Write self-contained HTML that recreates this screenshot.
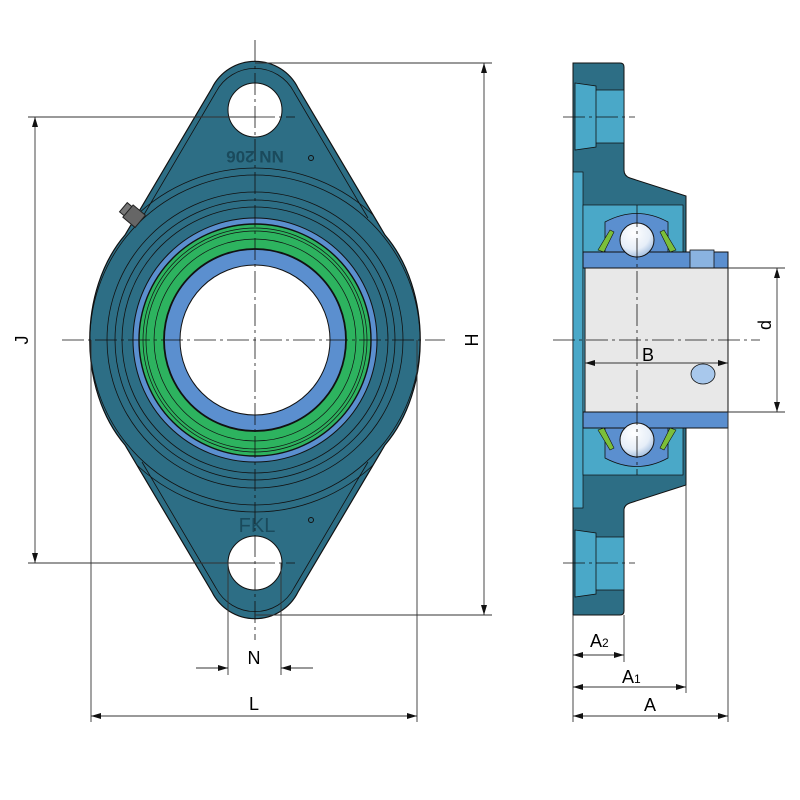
<!DOCTYPE html>
<html><head><meta charset="utf-8"><style>body{margin:0;background:#fff}svg{display:block}text{font-family:"Liberation Sans",sans-serif}</style></head><body>
<svg width="800" height="800" viewBox="0 0 800 800" xmlns="http://www.w3.org/2000/svg">
<defs>
<marker id="a" viewBox="0 0 10 6" refX="10" refY="3" markerWidth="10" markerHeight="6" orient="auto-start-reverse" markerUnits="userSpaceOnUse"><path d="M0,0L10,3L0,6z" fill="#111"/></marker>
<radialGradient id="ball" cx="0.4" cy="0.3" r="0.8"><stop offset="0" stop-color="#fff"/><stop offset="0.6" stop-color="#e6eef8"/><stop offset="1" stop-color="#8fb0d8"/></radialGradient>
<clipPath id="hc"><path d="M212,88 A48,48 0 0 1 298,88 L385,235 C432,290 432,390 385,445 L298,592 A48,48 0 0 1 212,592 L125,445 C78,390 78,290 125,235 Z"/></clipPath>
</defs>
<path d="M212,88 A48,48 0 0 1 298,88 L385,235 C432,290 432,390 385,445 L298,592 A48,48 0 0 1 212,592 L125,445 C78,390 78,290 125,235 Z" fill="#2d6e85" stroke="#111" stroke-width="1.2"/>
<path d="M216,92 A44,44 0 0 1 294,92 L368,218 M216,588 A44,44 0 0 0 294,588 L368,462 M142,218 L216,92 M142,462 L216,588" fill="none" stroke="#111" stroke-width="0.8"/>
<g fill="none" stroke="#111" stroke-width="0.8" clip-path="url(#hc)">
<circle cx="255" cy="340" r="172"/><circle cx="255" cy="340" r="165"/><circle cx="255" cy="340" r="148"/><circle cx="255" cy="340" r="140"/><circle cx="255" cy="340" r="133"/>
</g>
<circle cx="255" cy="340" r="122" fill="#5b8fcf" stroke="#111" stroke-width="1"/>
<circle cx="255" cy="340" r="116" fill="#2db35f" stroke="#111" stroke-width="1.4"/>
<g fill="none" stroke="#111" stroke-width="0.7"><circle cx="255" cy="340" r="112"/><circle cx="255" cy="340" r="109"/><circle cx="255" cy="340" r="101"/></g>
<circle cx="255" cy="340" r="91" fill="#5b8fcf" stroke="#111" stroke-width="1.8"/>
<circle cx="255" cy="340" r="75" fill="#fff" stroke="#111" stroke-width="1"/>
<circle cx="255" cy="110" r="27" fill="#fff" stroke="#111"/>
<circle cx="255" cy="563" r="27" fill="#fff" stroke="#111"/>
<circle cx="311" cy="158" r="2.5" fill="none" stroke="#111"/><circle cx="311" cy="520" r="2.5" fill="none" stroke="#111"/>
<text x="255" y="163" font-size="17" font-weight="bold" fill="#1a4a5c" text-anchor="middle" transform="rotate(180 255 157)">NN 206</text>
<text x="257" y="532" font-size="20" fill="#1a4a5c" text-anchor="middle" font-family="Liberation Serif">FKL</text>
<g transform="rotate(40 130 218)"><rect x="118" y="208" width="16" height="12" fill="#777" stroke="#222"/><rect x="124" y="206" width="16" height="16" fill="#666" stroke="#222"/></g>
<g stroke="#111" stroke-width="0.8" stroke-dasharray="22,4,3,4" fill="none">
<line x1="255" y1="40" x2="255" y2="640"/><line x1="62" y1="340" x2="445" y2="340"/>
<line x1="220" y1="117" x2="295" y2="117"/><line x1="220" y1="563" x2="295" y2="563"/>
</g>
<g stroke="#333" stroke-width="0.9" fill="none">
<line x1="28" y1="117" x2="255" y2="117"/><line x1="28" y1="563" x2="255" y2="563"/>
<line x1="35" y1="117" x2="35" y2="563" marker-start="url(#a)" marker-end="url(#a)"/>
<line x1="255" y1="63" x2="492" y2="63"/><line x1="255" y1="615" x2="492" y2="615"/>
<line x1="484" y1="63" x2="484" y2="615" marker-start="url(#a)" marker-end="url(#a)"/>
<line x1="91" y1="340" x2="91" y2="722"/><line x1="417" y1="340" x2="417" y2="722"/>
<line x1="91" y1="716" x2="417" y2="716" marker-start="url(#a)" marker-end="url(#a)"/>
<line x1="228" y1="563" x2="228" y2="675"/><line x1="281" y1="563" x2="281" y2="675"/>
<line x1="196" y1="668" x2="228" y2="668" marker-end="url(#a)"/><line x1="313" y1="668" x2="281" y2="668" marker-end="url(#a)"/>
</g>
<text x="22" y="340" font-size="18" text-anchor="middle" transform="rotate(-90 22 340)" dy="6">J</text>
<text x="472" y="340" font-size="18" text-anchor="middle" transform="rotate(-90 472 340)" dy="6">H</text>
<text x="254" y="710" font-size="18" text-anchor="middle">L</text>
<text x="254" y="664" font-size="18" text-anchor="middle">N</text>
<path d="M573,63 L620,63 Q624,63 624,67 L624,170 Q624,176 630,178 L686,196 L686,485 L630,503 Q624,505 624,510 L624,611 Q624,615 620,615 L573,615 Z" fill="#2d6e85" stroke="#111"/>
<path d="M575,83 L596,86 L596,147 L575,150 Z M596,90 L624,90 L624,143 L596,143 Z M575,530 L596,533 L596,594 L575,597 Z M596,537 L624,537 L624,590 L596,590 Z" fill="#4aa8c8" stroke="#111" stroke-width="0.8"/>
<rect x="573" y="172" width="10" height="336" fill="#4aa8c8" stroke="#111" stroke-width="0.7"/>
<rect x="583" y="205" width="100" height="270" fill="#4aa8c8" stroke="#111" stroke-width="0.7"/>
<path d="M605,222 Q637,205 668,222 L668,252 L605,252 Z M605,458 Q637,475 668,458 L668,428 L605,428 Z" fill="#5b8fcf" stroke="#111" stroke-width="0.8"/>
<path d="M598,250 L610,230 L614,232 L604,252 Z M676,250 L664,230 L660,232 L670,252 Z M598,430 L610,450 L614,448 L604,428 Z M676,430 L664,450 L660,448 L670,428 Z" fill="#7bbf3a" stroke="#111" stroke-width="0.6"/>
<rect x="583" y="252" width="145" height="16" fill="#5b8fcf" stroke="#111"/>
<rect x="583" y="412" width="145" height="16" fill="#5b8fcf" stroke="#111"/>
<rect x="690" y="250" width="24" height="18" fill="#8ab3e0" stroke="#111" stroke-width="0.8"/>
<rect x="585" y="268" width="143" height="144" fill="#e8e8e8" stroke="#111"/>
<circle cx="637" cy="240" r="17" fill="url(#ball)" stroke="#111"/>
<circle cx="637" cy="440" r="17" fill="url(#ball)" stroke="#111"/>
<ellipse cx="703" cy="374" rx="12" ry="10" fill="#a8c8ec" stroke="#111" stroke-width="0.8"/>
<g stroke="#111" stroke-width="0.8" stroke-dasharray="22,4,3,4" fill="none">
<line x1="553" y1="340" x2="760" y2="340"/><line x1="637" y1="205" x2="637" y2="475"/>
<line x1="563" y1="117" x2="635" y2="117"/><line x1="563" y1="563" x2="635" y2="563"/>
</g>
<g stroke="#333" stroke-width="0.9" fill="none">
<line x1="585" y1="363" x2="728" y2="363" marker-start="url(#a)" marker-end="url(#a)"/>
<line x1="728" y1="268" x2="785" y2="268"/><line x1="728" y1="412" x2="785" y2="412"/>
<line x1="777" y1="268" x2="777" y2="412" marker-start="url(#a)" marker-end="url(#a)"/>
<line x1="573" y1="615" x2="573" y2="722"/><line x1="624" y1="615" x2="624" y2="662"/>
<line x1="686" y1="485" x2="686" y2="693"/><line x1="728" y1="412" x2="728" y2="722"/>
<line x1="573" y1="655" x2="624" y2="655" marker-start="url(#a)" marker-end="url(#a)"/>
<line x1="573" y1="687" x2="686" y2="687" marker-start="url(#a)" marker-end="url(#a)"/>
<line x1="573" y1="716" x2="728" y2="716" marker-start="url(#a)" marker-end="url(#a)"/>
</g>
<text x="648" y="361" font-size="18" text-anchor="middle">B</text>
<text x="765" y="325" font-size="18" text-anchor="middle" transform="rotate(-90 765 325)" dy="6">d</text>
<text x="590" y="647" font-size="18">A<tspan font-size="12">2</tspan></text>
<text x="622" y="683" font-size="18">A<tspan font-size="12">1</tspan></text>
<text x="650" y="711" font-size="18" text-anchor="middle">A</text>
</svg>
</body></html>
